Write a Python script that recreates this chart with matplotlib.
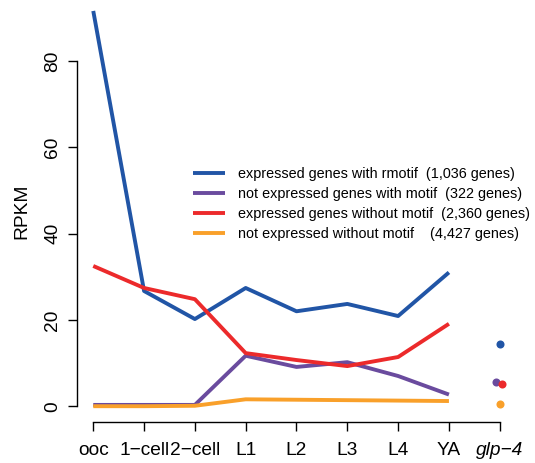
import matplotlib
matplotlib.use("Agg")
import matplotlib.pyplot as plt

plt.rcParams['font.family'] = ['Liberation Sans', 'DejaVu Sans']

stages = ["ooc", "1\u2212cell", "2\u2212cell", "L1", "L2", "L3", "L4", "YA"]
glp_label = "glp\u22124"

blue_vals = [91.6, 26.7, 20.2, 27.4, 22.0, 23.7, 20.9, 31.0]
purple_vals = [0.3, 0.3, 0.3, 11.7, 9.1, 10.2, 7.0, 2.7]
red_vals = [32.5, 27.4, 24.8, 12.3, 10.7, 9.3, 11.4, 19.1]
orange_vals = [0.0, 0.0, 0.1, 1.6, 1.5, 1.4, 1.3, 1.2]

glp_vals = [14.5, 5.7, 5.2, 0.4]
glp_offsets = [0.0, -0.08, 0.04, 0.0]

labels = [
    "expressed genes with rmotif  (1,036 genes)",
    "not expressed genes with motif  (322 genes)",
    "expressed genes without motif  (2,360 genes)",
    "not expressed without motif    (4,427 genes)",
]
colors = ["#2155A6", "#6A4B9E", "#EC2A2B", "#F9A02A"]

W, H = 535, 463
fig = plt.figure(figsize=(W / 100, H / 100), dpi=100)
left, right, bottom, top = 77, 516, 422, 0.6
ax = fig.add_axes([left / W, 1 - bottom / H, (right - left) / W, (bottom - top) / H])

x = list(range(1, len(stages) + 1))
series = [blue_vals, purple_vals, red_vals, orange_vals]
for vals, c, lab in zip(series, colors, labels):
    ax.plot(x, vals, color=c, lw=2.8, solid_capstyle='butt', label=lab)

gx = len(stages) + 1
for v, off, c in zip(glp_vals, glp_offsets, colors):
    ax.plot([gx + off], [v], 'o', color=c, ms=5.8, mec='none')

ax.set_xlim(0.68, 9.32)
ax.set_ylim(-3.66, 94)

for s in ['top', 'right']:
    ax.spines[s].set_visible(False)
ax.spines['left'].set_bounds(0, 80)
ax.spines['bottom'].set_bounds(1, 9)
ax.spines['left'].set_linewidth(1.0)
ax.spines['bottom'].set_linewidth(1.0)

ax.set_yticks([0, 20, 40, 60, 80])
ax.set_yticklabels(["0", "20", "40", "60", "80"], rotation=90, va='center')
ax.set_xticks(x + [gx])
ax.set_xticklabels(stages + [glp_label])
ax.get_xticklabels()[-1].set_style('italic')
ax.tick_params(axis='both', length=6.2, width=1.0, labelsize=13.8)
ax.tick_params(axis='y', pad=5)
ax.tick_params(axis='x', pad=8)

ax.set_ylabel("RPKM", fontsize=13.8, labelpad=10)

fs = 10.4
leg = fig.legend(loc='upper left', bbox_to_anchor=(193 / W, 1 - 167 / H),
                 frameon=False, fontsize=fs, handlelength=2.2, handletextpad=0.9,
                 labelspacing=0.42, borderaxespad=0, borderpad=0)

fig.savefig("out.png", dpi=100)
